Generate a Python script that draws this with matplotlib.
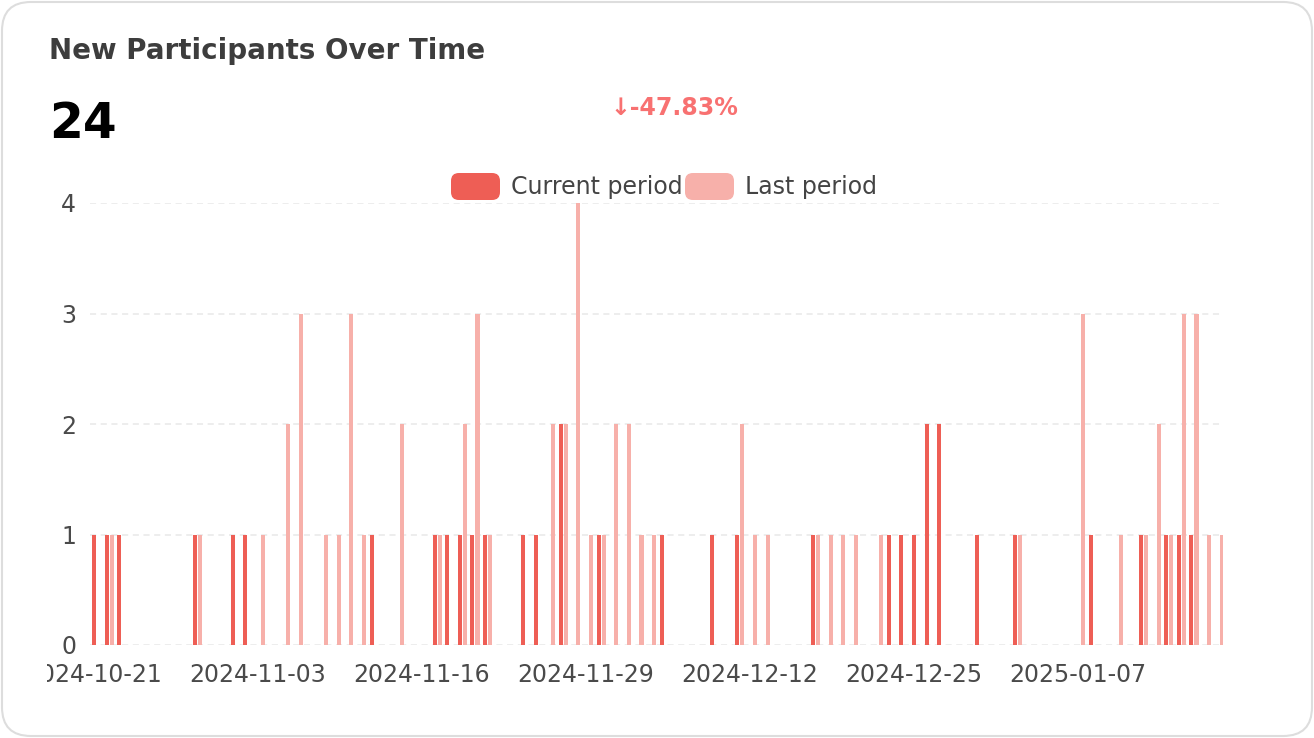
import matplotlib
matplotlib.use("Agg")
import matplotlib.pyplot as plt
import matplotlib.dates as mdates
from matplotlib.patches import FancyBboxPatch
from matplotlib.transforms import Bbox
import pandas as pd

start = pd.Timestamp("2024-10-21")

# day offsets from start -> counts
cur_days = [0, 1, 2, 8, 11, 12, 22, 27, 28, 29, 30, 31, 34, 35, 37, 40, 45, 49, 51,
            57, 63, 64, 65, 66, 67, 70, 73, 79, 83, 85, 86, 87]
cur_vals = [1, 1, 1, 1, 1, 1, 1, 1, 1, 1, 1, 1, 1, 1, 2, 1, 1, 1, 1,
            1, 1, 1, 1, 2, 2, 1, 1, 1, 1, 1, 1, 1]
last_days = [1, 8, 13, 15, 16, 18, 19, 20, 21, 24, 27, 29, 30, 31, 36, 37, 38, 39, 40,
             41, 42, 43, 44, 51, 52, 53, 57, 58, 59, 60, 62, 73, 78, 81, 83, 84, 85,
             86, 87, 88, 89]
last_vals = [1, 1, 1, 2, 3, 1, 1, 3, 1, 2, 1, 2, 3, 1, 2, 2, 4, 1, 1,
             2, 2, 1, 1, 2, 1, 1, 1, 1, 1, 1, 1, 1, 3, 1, 1, 2, 1,
             3, 3, 1, 1]
tick_days = [0, 13, 26, 39, 52, 65, 78]

title = "New Participants Over Time"
total = "24"
change = "↓-47.83%"

cur_color = "#ee5e55"
last_color = "#f7b0aa"

W, H = 1314, 738
fig = plt.figure(figsize=(W / 100, H / 100), dpi=100)

# card
card = FancyBboxPatch((2 / W, 2 / H), (W - 4) / W, (H - 4) / H,
                      boxstyle="round,pad=0,rounding_size=0.022",
                      transform=fig.transFigure, facecolor="white",
                      edgecolor="#dddddd", linewidth=1.5, mutation_aspect=W / H,
                      zorder=-10)
fig.patches.append(card)

ax = fig.add_axes([90 / W, 93 / H, (1223 - 90) / W, (645 - 203) / H])
ax.set_facecolor("none")

cur_x = [start + pd.Timedelta(days=d) for d in cur_days]
last_x = [start + pd.Timedelta(days=d + 0.4) for d in last_days]

ax.bar(last_x, last_vals, width=0.32, color=last_color, zorder=3)
ax.bar(cur_x, cur_vals, width=0.32, color=cur_color, zorder=4)

ax.set_xlim(start - pd.Timedelta(days=0.32), start + pd.Timedelta(days=89.5))
ax.set_ylim(0, 4)
ax.set_yticks([0, 1, 2, 3, 4])
ax.set_xticks([start + pd.Timedelta(days=d) for d in tick_days])
ax.xaxis.set_major_formatter(mdates.DateFormatter("%Y-%m-%d"))

ax.grid(axis="y", color="#e8e8e8", linestyle=(0, (4, 3)), linewidth=1.1, zorder=0)
ax.grid(axis="x", visible=False)
for s in ax.spines.values():
    s.set_visible(False)
ax.tick_params(length=0, labelsize=17, colors="#4a4a4a")
ax.tick_params(axis="x", pad=13)
ax.tick_params(axis="y", pad=10)

fig.canvas.draw()
clip = Bbox.from_extents(47, 0, W, H)
for lab in ax.get_xticklabels():
    lab.set_clip_on(True)
    lab.set_clip_box(clip)

fig.text(49 / W, 1 - 51 / H, title, fontsize=20, fontweight="bold",
         color="#3d3d3d", va="center", ha="left")
fig.text(49 / W, 1 - 124 / H, total, fontsize=35, fontweight="bold",
         color="black", va="center", ha="left")
fig.text(674 / W, 1 - 108 / H, change, fontsize=17, fontweight="bold",
         color="#f87171", va="center", ha="center")

# legend
for px, label, col in [(451, "Current period", cur_color), (685, "Last period", last_color)]:
    p = FancyBboxPatch((px / W, 1 - 200 / H), 49 / W, 27 / H,
                       boxstyle="round,pad=0,rounding_size=0.006",
                       transform=fig.transFigure, facecolor=col, edgecolor="none",
                       mutation_aspect=W / H)
    fig.patches.append(p)
    fig.text((px + 60) / W, 1 - 187 / H, label, fontsize=17, color="#444444",
             va="center", ha="left")

fig.savefig("out.png", dpi=100)
